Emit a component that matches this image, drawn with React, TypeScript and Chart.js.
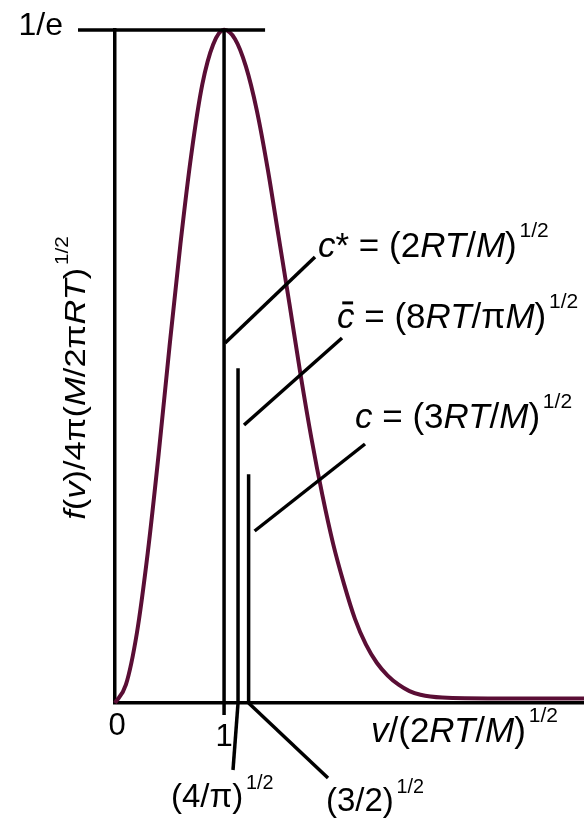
import { useEffect, useRef } from 'react';
import { Chart, registerables } from 'chart.js';

Chart.register(...registerables);

// Reduced speed v/(2RT/M)^1/2 and the reduced Maxwell density at each speed.
const speedRatio = [0, 0.1, 0.2, 0.3, 0.4, 0.5, 0.6, 0.7, 0.8, 0.9, 1.0, 1.1, 1.2, 1.3, 1.4, 1.5, 1.6, 1.7, 1.8, 1.9, 2.0, 2.1, 2.2, 2.3, 2.4, 2.5, 2.6, 2.7, 2.8, 3.0, 3.5, 4.3];
const density = [0, 0.010, 0.038, 0.082, 0.136, 0.195, 0.251, 0.300, 0.338, 0.360, 0.368, 0.363, 0.348, 0.324, 0.292, 0.255, 0.218, 0.180, 0.145, 0.114, 0.087, 0.065, 0.046, 0.032, 0.022, 0.015, 0.010, 0.0065, 0.0045, 0.003, 0.0025, 0.0025];

// Characteristic speeds: most probable, mean, root-mean-square.
const markerSpeeds = [1, 1.128, 1.225]; // 1, (4/pi)^1/2, (3/2)^1/2
const markerTops = [0.3679, 0.183, 0.125];

const xTickValues = [0, 1];
const xTickLabels = ['0', '1'];
const yMaxValue = 0.3679; // 1/e
const yMaxLabel = '1/e';

type Seg = { t: string; k: 'n' | 'i' | 'sup'; bar?: boolean };

const markerLabels: Seg[][] = [
  [{ t: 'c', k: 'i' }, { t: '*', k: 'n' }, { t: ' = (2', k: 'n' }, { t: 'RT', k: 'i' }, { t: '/', k: 'n' }, { t: 'M', k: 'i' }, { t: ')', k: 'n' }, { t: '1/2', k: 'sup' }],
  [{ t: 'c', k: 'i', bar: true }, { t: ' = (8', k: 'n' }, { t: 'RT', k: 'i' }, { t: '/\u03c0', k: 'n' }, { t: 'M', k: 'i' }, { t: ')', k: 'n' }, { t: '1/2', k: 'sup' }],
  [{ t: 'c', k: 'i' }, { t: ' = (3', k: 'n' }, { t: 'RT', k: 'i' }, { t: '/', k: 'n' }, { t: 'M', k: 'i' }, { t: ')', k: 'n' }, { t: '1/2', k: 'sup' }],
];
const markerAxisLabels: Seg[][] = [
  [],
  [{ t: '(4/\u03c0)', k: 'n' }, { t: '1/2', k: 'sup' }],
  [{ t: '(3/2)', k: 'n' }, { t: '1/2', k: 'sup' }],
];
const xTitle: Seg[] = [{ t: 'v', k: 'i' }, { t: '/(2', k: 'n' }, { t: 'RT', k: 'i' }, { t: '/', k: 'n' }, { t: 'M', k: 'i' }, { t: ')', k: 'n' }, { t: '1/2', k: 'sup' }];
const yTitle: Seg[] = [{ t: 'f', k: 'i' }, { t: '(', k: 'n' }, { t: 'v', k: 'i' }, { t: ')/4\u03c0(', k: 'n' }, { t: 'M', k: 'i' }, { t: '/2\u03c0', k: 'n' }, { t: 'RT', k: 'i' }, { t: ')', k: 'n' }, { t: '1/2', k: 'sup' }];

const FAMILY = '"Liberation Sans", Arial, sans-serif';
const CURVE = '#5a0e35';
const INK = '#000000';

function richText(ctx: CanvasRenderingContext2D, segs: Seg[], x: number, y: number, size: number, draw = true): number {
  let cx = x;
  for (const s of segs) {
    const sup = s.k === 'sup';
    const fs = sup ? size * 0.6 : size;
    ctx.font = `${s.k === 'i' ? 'italic ' : ''}${fs}px ${FAMILY}`;
    if (sup) cx += size * 0.08;
    const w = ctx.measureText(s.t).width;
    if (draw) {
      ctx.fillText(s.t, cx, sup ? y - size * 0.56 : y);
      if (s.bar) ctx.fillRect(cx + w * 0.3, y - size * 0.76, w * 0.62, size * 0.085);
    }
    cx += w;
  }
  return cx - x;
}

function line(ctx: CanvasRenderingContext2D, x1: number, y1: number, x2: number, y2: number) {
  ctx.beginPath();
  ctx.moveTo(x1, y1);
  ctx.lineTo(x2, y2);
  ctx.stroke();
}

const labelsPlugin = {
  id: 'speedLabels',
  afterDraw(chart: Chart) {
    const { ctx } = chart;
    const xs = chart.scales.x;
    const ys = chart.scales.y;
    const y0 = ys.getPixelForValue(0);
    const yTop = ys.getPixelForValue(yMaxValue);
    const xp = markerSpeeds.map((v) => xs.getPixelForValue(v));

    ctx.save();
    ctx.strokeStyle = INK;
    ctx.fillStyle = INK;
    ctx.lineWidth = 3.5;
    ctx.lineCap = 'butt';

    // 1/e reference line
    line(ctx, xs.left - 37, yTop, xp[0] + 41, yTop);
    // tick below the axis at v = 1
    line(ctx, xs.getPixelForValue(1), y0, xs.getPixelForValue(1), y0 + 12);

    // leaders to the speed formulas
    line(ctx, xp[0] + 1, 343, 315, 257);
    line(ctx, xp[1] + 6, 425, 342, 338);
    line(ctx, xp[2] + 6, 531, 365, 444);
    // leaders to the axis values
    line(ctx, xp[1], y0, 233, 770);
    line(ctx, xp[2], y0, 328, 778);

    ctx.textBaseline = 'alphabetic';
    ctx.textAlign = 'left';
    richText(ctx, markerLabels[0], 318, 257, 35);
    richText(ctx, markerLabels[1], 337, 328, 35);
    richText(ctx, markerLabels[2], 355, 428, 35);
    richText(ctx, markerAxisLabels[1], 171, 807, 33);
    richText(ctx, markerAxisLabels[2], 326, 811, 33);
    richText(ctx, xTitle, 371, 742, 35);

    // tick labels
    ctx.font = `31px ${FAMILY}`;
    ctx.textAlign = 'center';
    ctx.fillText(xTickLabels[0], xs.getPixelForValue(xTickValues[0]) + 2, 735);
    ctx.fillText(xTickLabels[1], xs.getPixelForValue(xTickValues[1]), 746);
    ctx.font = `32px ${FAMILY}`;
    ctx.textAlign = 'right';
    ctx.fillText(yMaxLabel, xs.left - 52, yTop + 5);

    // vertical axis title
    ctx.textAlign = 'left';
    const size = 30;
    const stretch = 1.15;
    const w = richText(ctx, yTitle, 0, 0, size, false) * stretch;
    ctx.translate(85, 378);
    ctx.rotate(-Math.PI / 2);
    ctx.scale(stretch, 1);
    richText(ctx, yTitle, -w / 2 / stretch, 0, size);
    ctx.restore();
  },
};

export default function App() {
  const ref = useRef<HTMLCanvasElement | null>(null);

  useEffect(() => {
    if (!ref.current) return;
    const markerSets = markerSpeeds.map((v, i) => ({
      type: 'line' as const,
      data: [{ x: v, y: 0 }, { x: v, y: markerTops[i] }],
      borderColor: INK,
      borderWidth: 3.5,
      pointRadius: 0,
      clip: false as const,
    }));
    const chart = new Chart(ref.current, {
      type: 'line',
      data: {
        datasets: [
          ...markerSets,
          {
            data: speedRatio.map((x, i) => ({ x, y: density[i] })),
            borderColor: CURVE,
            borderWidth: 4,
            pointRadius: 0,
            cubicInterpolationMode: 'monotone',
            clip: false,
          },
        ],
      },
      options: {
        responsive: false,
        animation: false,
        events: [],
        layout: { padding: { left: 115, top: 30, right: 0, bottom: 116 } },
        plugins: { legend: { display: false }, tooltip: { enabled: false } },
        scales: {
          x: {
            type: 'linear',
            min: 0,
            max: 4.3,
            grid: { display: false, drawTicks: false },
            ticks: { display: false },
            border: { display: true, color: INK, width: 3.5 },
          },
          y: {
            type: 'linear',
            min: 0,
            max: yMaxValue,
            grid: { display: false, drawTicks: false },
            ticks: { display: false },
            border: { display: true, color: INK, width: 3.5 },
          },
        },
      },
      plugins: [labelsPlugin],
    });
    return () => chart.destroy();
  }, []);

  return (
    <div style={{ position: 'fixed', left: 0, top: 0, width: 584, height: 819, background: '#ffffff' }}>
      <canvas ref={ref} width={584} height={819} />
    </div>
  );
}
